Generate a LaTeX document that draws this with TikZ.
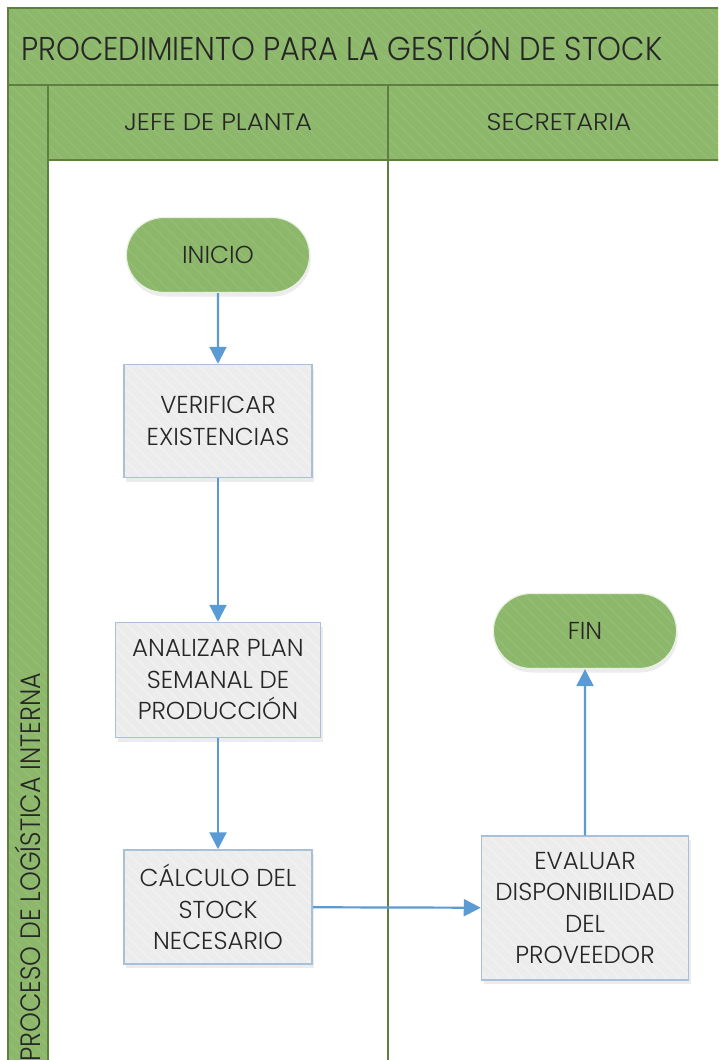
\documentclass[tikz,border=0pt]{standalone}
\usepackage{fontspec}
\setmainfont{Poppins Light}
\usetikzlibrary{shapes.misc,shadows,arrows.meta}
\definecolor{gfill}{HTML}{8DB86C}
\definecolor{ghatch}{HTML}{96BF76}
\definecolor{gline}{HTML}{5E7F3F}
\definecolor{bfill}{HTML}{ECECEC}
\definecolor{bhatch}{HTML}{F4F4F4}
\definecolor{bline}{HTML}{A9C0DA}
\definecolor{flowblue}{HTML}{5B9BD5}
\definecolor{ink}{HTML}{262626}
% diagonal stripes clipped to the current shape
\newcommand{\stripes}[1]{%
  \path (path picture bounding box.center) coordinate (pc);
  \foreach \k in {-90,...,90}
    \draw[#1, line width=1pt]
      ([xshift=\k*12pt-600pt, yshift=600pt]pc) -- ([xshift=\k*12pt+600pt, yshift=-600pt]pc);
}
\tikzset{
  band/.style={draw=gline, line width=1.2pt, fill=gfill, path picture={\stripes{ghatch}}},
  lanerule/.style={draw=gline, line width=1.2pt},
  headtext/.style={text=ink, inner sep=0pt},
  terminal/.style={rounded rectangle, draw=white!80!gfill, line width=1.2pt,
    minimum width=190pt, minimum height=75pt,
    fill=gfill, path picture={\stripes{ghatch}},
    drop shadow={shadow xshift=1pt, shadow yshift=-4pt, opacity=0.15},
    text=ink, font=\fontsize{24.5}{28}\selectfont},
  process/.style={rectangle, draw=bline, line width=1.5pt,
    fill=bfill, path picture={\stripes{bhatch}},
    drop shadow={shadow xshift=2pt, shadow yshift=-4pt, opacity=0.15},
    text=ink, align=center, font=\fontsize{24.5}{31.5}\selectfont, inner sep=2pt},
  flow/.style={draw=flowblue, line width=2.2pt, -{Triangle[length=17pt,width=17pt]}}
}
\begin{document}
\begin{tikzpicture}[x=1pt,y=-1pt]
\useasboundingbox (0,0) rectangle (718,1060);
\clip (0,0) rectangle (718,1060);
\fill[white] (0,0) rectangle (718,1060);

% pool title and lane headers
\path[band] (8,8) rectangle (740,85);
\path[band] (8,85) rectangle (48,1080);
\path[band] (48,85) rectangle (388,160);
\path[band] (388,85) rectangle (740,160);
\draw[lanerule] (48,160) -- (48,1080);
\draw[lanerule] (388,160) -- (388,1080);

\node[headtext, anchor=west, font=\fontsize{33}{36}\selectfont] (title) at (21,46)
  {\scalebox{0.92}[1]{PROCEDIMIENTO PARA LA GESTIÓN DE STOCK}};
\node[headtext, font=\fontsize{24}{28}\selectfont] (lane1) at (218,122) {\scalebox{1.08}[1]{JEFE DE PLANTA}};
\node[headtext, font=\fontsize{24}{28}\selectfont] (lane2) at (559,122) {\scalebox{1.08}[1]{SECRETARIA}};
\node[headtext, rotate=90, anchor=west, font=\fontsize{28}{32}\selectfont] (pool) at (28,1062)
  {\scalebox{0.9}[1]{PROCESO DE LOGÍSTICA INTERNA}};

% flow nodes
\node[terminal] (inicio) at (218,255) {INICIO};
\node[process, minimum width=188pt, minimum height=113pt] (verif) at (218,421)
  {VERIFICAR\\EXISTENCIAS};
\node[process, minimum width=205pt, minimum height=115pt] (analiz) at (218,680)
  {ANALIZAR PLAN\\SEMANAL DE\\PRODUCCIÓN};
\node[process, minimum width=188pt, minimum height=114pt] (calc) at (218,907)
  {CÁLCULO DEL\\STOCK\\NECESARIO};
\node[process, minimum width=207pt, minimum height=144pt] (evalu) at (585,908)
  {EVALUAR\\DISPONIBILIDAD\\DEL\\PROVEEDOR};
\node[terminal] (fin) at (585,631) {FIN};

% connectors
\draw[flow] (inicio) -- (verif);
\draw[flow] (verif) -- (analiz);
\draw[flow] (analiz) -- (calc);
\draw[flow] (calc) -- (evalu);
\draw[flow] (evalu) -- (fin);
\end{tikzpicture}
\end{document}
